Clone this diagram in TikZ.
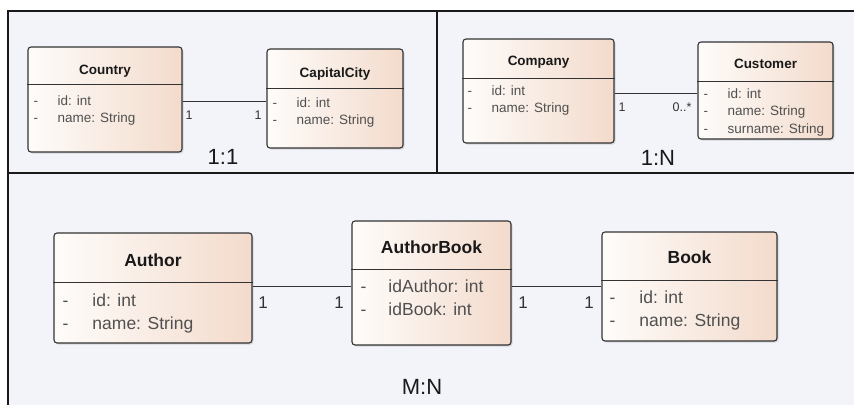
\documentclass[tikz,border=0pt]{standalone}
\usepackage{fontspec}
\setmainfont{Liberation Sans}
\usetikzlibrary{shadows}

\definecolor{panelbg}{HTML}{F2F4F9}
\definecolor{classleft}{HTML}{FEFCFA}
\definecolor{classright}{HTML}{F3DBCC}
\definecolor{classline}{HTML}{333333}
\definecolor{attrgray}{HTML}{505050}

\begin{document}
\begin{tikzpicture}[x=1pt, y=-1pt,
    frame/.style={line width=2pt, draw=black!90},
    classbox/.style={draw=classline, line width=1.1pt, rounded corners=3pt, inner sep=0pt,
        left color=classleft, right color=classright,
        drop shadow={opacity=0.25, shadow xshift=1.5pt, shadow yshift=-1.5pt}},
    sepline/.style={draw=classline, line width=1pt},
    assoc/.style={draw=classline, line width=1pt},
    titletop/.style={anchor=base, font=\fontsize{13.5}{17.5}\selectfont\bfseries, text=black!90},
    titlebot/.style={anchor=base, font=\fontsize{17.5}{23.5}\selectfont\bfseries, text=black!90},
    attrtop/.style={anchor=base west, inner sep=0pt, xshift=6pt, font=\fontsize{13.5}{17.5}\selectfont, text=attrgray},
    attrbot/.style={anchor=base west, inner sep=0pt, xshift=9pt, font=\fontsize{17.5}{23.5}\selectfont, text=attrgray},
    multtop/.style={inner sep=0pt, font=\fontsize{12.5}{15}\selectfont, text=black!80},
    multbot/.style={inner sep=0pt, font=\fontsize{17}{20}\selectfont, text=black!80},
    kind/.style={inner sep=0pt, font=\fontsize{22}{26}\selectfont, text=black!90}]

    \useasboundingbox (0,0) rectangle (854,405);
    \fill[panelbg] (8,11) rectangle (854,405);

    % panel frame
    \draw[frame] (854,11) -- (8,11) -- (8,405);
    \draw[frame] (8,173) -- (854,173);
    \draw[frame] (437,11) -- (437,173);

    % 1:1
    \node[classbox, minimum width=154pt, minimum height=105pt] (country) at (105,99.5) {};
    \draw[sepline] (country.west |- 0,84) -- (country.east |- 0,84);
    \node[titletop] at (country |- 0,74) {Country};
    \node[attrtop] at (country.west |- 0,105) {\begin{tabular}[t]{@{}l@{\hspace{19.5pt}}l@{}} - & id: int\\ - & name: String\end{tabular}};

    \node[classbox, minimum width=136pt, minimum height=99pt] (capital) at (335,98.5) {};
    \draw[sepline] (capital.west |- 0,88) -- (capital.east |- 0,88);
    \node[titletop] at (capital |- 0,77) {CapitalCity};
    \node[attrtop] at (capital.west |- 0,107) {\begin{tabular}[t]{@{}l@{\hspace{19.5pt}}l@{}} - & id: int\\ - & name: String\end{tabular}};

    \draw[assoc] (country.east |- 0,101) -- (capital.west |- 0,101);
    \node[multtop] (m11a) at (189,115) {1};
    \node[multtop] (m11b) at (258,115) {1};
    \node[kind] (k11) at (223,157) {1:1};

    % 1:N
    \node[classbox, minimum width=151pt, minimum height=104pt] (company) at (538.5,91) {};
    \draw[sepline] (company.west |- 0,78) -- (company.east |- 0,78);
    \node[titletop] at (company |- 0,65) {Company};
    \node[attrtop, xshift=-1pt] at (company.west |- 0,95) {\begin{tabular}[t]{@{}l@{\hspace{19.5pt}}l@{}} - & id: int\\ - & name: String\end{tabular}};

    \node[classbox, minimum width=135pt, minimum height=97pt] (customer) at (765.5,90.5) {};
    \draw[sepline] (customer.west |- 0,81) -- (customer.east |- 0,81);
    \node[titletop] at (customer |- 0,68) {Customer};
    \node[attrtop] at (customer.west |- 0,98) {\begin{tabular}[t]{@{}l@{\hspace{19.5pt}}l@{}} - & id: int\\ - & name: String\\ - & surname: String\end{tabular}};

    \draw[assoc] (company.east |- 0,93) -- (customer.west |- 0,93);
    \node[multtop] (m1na) at (622,107) {1};
    \node[multtop] (m1nb) at (682,107) {0..*};
    \node[kind] (k1n) at (658,158) {1:N};

    % M:N
    \node[classbox, minimum width=198pt, minimum height=110pt] (author) at (153,288) {};
    \draw[sepline] (author.west |- 0,282) -- (author.east |- 0,282);
    \node[titlebot] at (author |- 0,266) {Author};
    \node[attrbot] at (author.west |- 0,306) {\begin{tabular}[t]{@{}l@{\hspace{24pt}}l@{}} - & id: int\\ - & name: String\end{tabular}};

    \node[classbox, minimum width=159pt, minimum height=124pt] (authorbook) at (431.5,283) {};
    \draw[sepline] (authorbook.west |- 0,269) -- (authorbook.east |- 0,269);
    \node[titlebot] at (authorbook |- 0,253) {AuthorBook};
    \node[attrbot] at (authorbook.west |- 0,292) {\begin{tabular}[t]{@{}l@{\hspace{22pt}}l@{}} - & idAuthor: int\\ - & idBook: int\end{tabular}};

    \node[classbox, minimum width=175pt, minimum height=109pt] (book) at (689.5,286.5) {};
    \draw[sepline] (book.west |- 0,280) -- (book.east |- 0,280);
    \node[titlebot] at (book |- 0,263) {Book};
    \node[attrbot, xshift=-1pt] at (book.west |- 0,303) {\begin{tabular}[t]{@{}l@{\hspace{24pt}}l@{}} - & id: int\\ - & name: String\end{tabular}};

    \draw[assoc] (author.east |- 0,286) -- (authorbook.west |- 0,286);
    \draw[assoc] (authorbook.east |- 0,286) -- (book.west |- 0,286);
    \node[multbot] (mmna) at (263,303) {1};
    \node[multbot] (mmnb) at (339,303) {1};
    \node[multbot] (mmnc) at (523,303) {1};
    \node[multbot] (mmnd) at (589,303) {1};
    \node[kind] (kmn) at (422,387) {M:N};
\end{tikzpicture}
\end{document}
